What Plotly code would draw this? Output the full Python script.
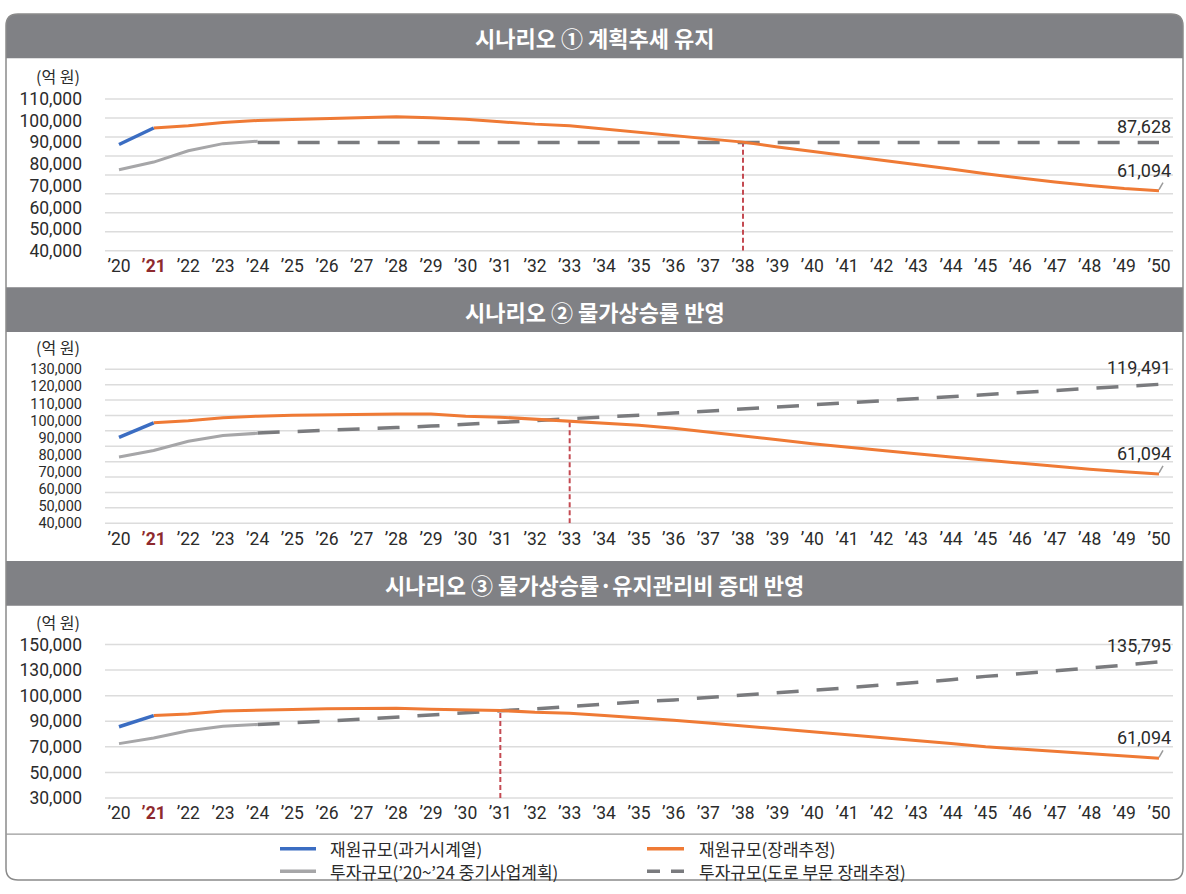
import numpy as np
import plotly.graph_objects as go

W, H = 1186, 894
FONT = "Noto Sans CJK KR"
NUMFONT = "Roboto"

# ---------------- data ----------------
YEARS = list(range(2020, 2051))
YEAR_LABELS = ["’%02d" % (y % 100) for y in YEARS]
HIGHLIGHT_YEAR = 2021

PANEL_TITLES = ["시나리오 ① 계획추세 유지",
                "시나리오 ② 물가상승률 반영",
                "시나리오 ③ 물가상승률·유지관리비 증대 반영"]
UNIT_LABEL = "(억 원)"

PAST_YEARS = [2020, 2021]
FUTURE_YEARS = list(range(2021, 2051))
PLAN_YEARS = [2020, 2021, 2022, 2023, 2024]
EST_YEARS = list(range(2024, 2051))

# Scenario 1
S1_TICKS = [40000, 50000, 60000, 70000, 80000, 90000, 100000, 110000]
S1_PAST = [89000, 96600]
S1_FUTURE = [96600, 97700, 99200, 100100, 100500, 101000, 101300, 101800, 101300, 100700,
             99500, 98400, 97700, 96200, 94900, 93300, 91700, 90100, 87900, 85900,
             83800, 81800, 79700, 77700, 75500, 73500, 71700, 70100, 68700, 67700]
S1_PLAN = [77400, 80900, 86100, 89400, 90500]
S1_EST = [89900, 89900, 89900, 89900, 89900, 89900, 89900, 89900, 89900, 89900,
          89900, 89900, 89900, 89900, 89900, 89900, 89900, 89900, 89900, 89900,
          89900, 89900, 89900, 89900, 89900, 89900, 89900]

# Scenario 2
S2_TICKS = [40000, 50000, 60000, 70000, 80000, 90000, 100000, 110000, 120000, 130000]
S2_PAST = [90200, 98700]
S2_FUTURE = [98700, 99900, 101600, 102600, 103100, 103500, 103500, 103900, 103900, 102600,
             102000, 100800, 99900, 98300, 97300, 95500, 93400, 91300, 88800, 86500,
             84400, 82500, 80600, 78700, 76800, 74900, 73200, 71500, 70100, 68800]
S2_PLAN = [78700, 82500, 87900, 91300, 92600]
S2_EST = [92800, 93500, 94200, 95000, 95900, 96800, 97800, 98900, 100000, 101100,
          102100, 103200, 104400, 105600, 106800, 108000, 109300, 110600, 111900, 113100,
          114400, 115600, 116800, 118000, 119100, 120200, 121200]

# Scenario 3 (axis labels are evenly spaced but not linear)
S3_TICKS = [30000, 50000, 70000, 90000, 100000, 130000, 150000]
S3_PAST = [85700, 92200]
S3_FUTURE = [92200, 92800, 94000, 94400, 94600, 94900, 94900, 95100, 94700, 94400,
             94200, 93500, 93100, 92200, 91400, 90400, 88700, 86400, 84500, 82200,
             79900, 77600, 75000, 72500, 70000, 68200, 66200, 64300, 62500, 61000]
S3_PLAN = [72500, 76900, 82600, 86000, 87500]
S3_EST = [87500, 88500, 90000, 90800, 91700, 92400, 93200, 94100, 94800, 95800,
          96700, 97600, 98300, 99200, 100600, 103500, 106400, 109200, 112400, 115200,
          118600, 122600, 125500, 128900, 131500, 133900, 136400]

CROSS_YEARS = [2038, 2033, 2031]
END_EST_LABELS = ["87,628", "119,491", "135,795"]
END_FUT_LABELS = ["61,094", "61,094", "61,094"]

LEGEND_NAMES = ["재원규모(과거시계열)", "투자규모(’20~’24 중기사업계획)",
                "재원규모(장래추정)", "투자규모(도로 부문 장래추정)"]

# ---------------- style ----------------
C_BLUE = "#3b6dc2"
C_ORANGE = "#ef7a35"
C_GRAY = "#a6a6a8"
C_DASH = "#7a7b7e"
C_RED = "#c44a52"
C_HEAD = "#808185"
C_GRID = "#dcdcdc"
C_TEXT = "#2b2b2b"
DASH = "22px,18px"


def px_x(p):
    return p / W


def px_y(p):
    return 1 - p / H


# plot-area pixel geometry per panel: (top, bottom)
PANEL_PX = [(91, 246.3), (367.5, 525.0), (649, 806)]
YTICK_SIZE = [17.5, 14.5, 17.5]
X_LEFT, X_RIGHT = 105, 1173
X0_PX, X50_PX = 119, 1159
per = (X50_PX - X0_PX) / 30.0
XRANGE = [2020 - (X0_PX - X_LEFT) / per, 2050 + (X_RIGHT - X50_PX) / per]
N_GRID = [9, 11, 7]

panels = [
    dict(ticks=S1_TICKS, past=S1_PAST, fut=S1_FUTURE, plan=S1_PLAN, est=S1_EST, linear=True),
    dict(ticks=S2_TICKS, past=S2_PAST, fut=S2_FUTURE, plan=S2_PLAN, est=S2_EST, linear=True),
    dict(ticks=S3_TICKS, past=S3_PAST, fut=S3_FUTURE, plan=S3_PLAN, est=S3_EST, linear=False),
]

fig = go.Figure()
shapes = []
annotations = []

xticktext = []
for y, lab in zip(YEARS, YEAR_LABELS):
    if y == HIGHLIGHT_YEAR:
        xticktext.append("<b><span style='color:#8e2a2e'>%s</span></b>" % lab)
    else:
        xticktext.append(lab)

for k, p in enumerate(panels):
    idx = "" if k == 0 else str(k + 1)
    xa, ya = "x" + idx, "y" + idx
    ticks = p["ticks"]
    if p["linear"]:
        def tf(v):
            return list(v)
        yrange = [ticks[0], ticks[-1]]
        tickvals = ticks
    else:
        def tf(v, t=ticks):
            return list(np.interp(v, t, np.arange(len(t))))
        yrange = [0, len(ticks) - 1]
        tickvals = list(range(len(ticks)))
    ticktext = ["{:,}".format(t) for t in ticks]

    top, bot = PANEL_PX[k]
    fig.update_layout(**{
        ("xaxis" + idx): dict(domain=[px_x(X_LEFT), px_x(X_RIGHT)], range=XRANGE, anchor=ya,
                              tickvals=YEARS, ticktext=xticktext, showgrid=False,
                              zeroline=False, showline=False, ticks="",
                              tickfont=dict(family=NUMFONT, size=17.5, color=C_TEXT),
                              ticklabelstandoff=3, fixedrange=True),
        ("yaxis" + idx): dict(domain=[px_y(bot), px_y(top)], range=yrange, anchor=xa,
                              tickvals=tickvals, ticktext=ticktext, showgrid=False,
                              zeroline=False, showline=False, ticks="",
                              tickfont=dict(family=NUMFONT, size=YTICK_SIZE[k], color=C_TEXT),
                              ticklabelstandoff=22, fixedrange=True),
    })

    # gridlines
    n = N_GRID[k]
    for j in range(n):
        shapes.append(dict(type="line", xref=xa + " domain", yref=ya + " domain",
                           x0=0, x1=1, y0=j / (n - 1), y1=j / (n - 1),
                           line=dict(color=C_GRID, width=1.5), layer="below"))

    # red crossover marker
    cy = CROSS_YEARS[k]
    cv = float(np.interp(cy, FUTURE_YEARS, p["fut"]))
    shapes.append(dict(type="line", xref=xa, yref=ya, x0=cy, x1=cy,
                       y0=yrange[0], y1=tf([cv])[0],
                       line=dict(color=C_RED, width=2, dash="5px,3px"), layer="below"))

    fig.add_trace(go.Scatter(x=PLAN_YEARS, y=tf(p["plan"]), xaxis=xa, yaxis=ya, mode="lines",
                             line=dict(color=C_GRAY, width=3), showlegend=False, hoverinfo="skip"))
    fig.add_trace(go.Scatter(x=EST_YEARS, y=tf(p["est"]), xaxis=xa, yaxis=ya, mode="lines",
                             line=dict(color=C_DASH, width=3.5, dash=DASH), showlegend=False,
                             hoverinfo="skip"))
    fig.add_trace(go.Scatter(x=FUTURE_YEARS, y=tf(p["fut"]), xaxis=xa, yaxis=ya, mode="lines",
                             line=dict(color=C_ORANGE, width=3), showlegend=False,
                             hoverinfo="skip"))
    fig.add_trace(go.Scatter(x=PAST_YEARS, y=tf(p["past"]), xaxis=xa, yaxis=ya, mode="lines",
                             line=dict(color=C_BLUE, width=3.5), showlegend=False,
                             hoverinfo="skip"))

    # small leader tick at orange end
    fv = tf([p["fut"][-1]])[0]
    shapes.append(dict(type="line", xref=xa, yref=ya, xsizemode="pixel", ysizemode="pixel",
                       xanchor=2050, yanchor=fv, x0=0, x1=4, y0=1, y1=8,
                       line=dict(color="#9a9a9a", width=1.5)))

    # end labels
    ev = tf([p["est"][-1]])[0]
    annotations.append(dict(x=2050, y=ev, xref=xa, yref=ya, text=END_EST_LABELS[k],
                            showarrow=False, xanchor="right", yanchor="bottom",
                            xshift=14, yshift=4,
                            font=dict(family=NUMFONT, size=18, color=C_TEXT)))
    annotations.append(dict(x=2050, y=fv, xref=xa, yref=ya, text=END_FUT_LABELS[k],
                            showarrow=False, xanchor="right", yanchor="bottom",
                            xshift=14, yshift=8,
                            font=dict(family=NUMFONT, size=18, color=C_TEXT)))

    # unit label
    annotations.append(dict(x=px_x(82), y=px_y(top - 23), xref="paper", yref="paper",
                            text=UNIT_LABEL, showarrow=False, xanchor="right",
                            yanchor="middle", font=dict(family=FONT, size=16, color=C_TEXT)))

# ---------------- frame, headers ----------------
L, R, T, B, RAD = 6, 1183, 4, 890, 12
HEADERS = [(4, 49.3), (283.5, 329.3), (563.5, 609.3)]


def P(x, y):
    return "%.5f,%.5f" % (px_x(x), px_y(y))


# header 1 with rounded top corners
t, b = HEADERS[0]
path = ("M " + P(L, b) + " L " + P(L, t + RAD) + " Q " + P(L, t) + " " + P(L + RAD, t) +
        " L " + P(R - RAD, t) + " Q " + P(R, t) + " " + P(R, t + RAD) + " L " + P(R, b) + " Z")
shapes.append(dict(type="path", xref="paper", yref="paper", path=path,
                   fillcolor=C_HEAD, line=dict(width=0), layer="below"))
for t, b in HEADERS[1:]:
    shapes.append(dict(type="rect", xref="paper", yref="paper", x0=px_x(L), x1=px_x(R),
                       y0=px_y(b), y1=px_y(t), fillcolor=C_HEAD, line=dict(width=0),
                       layer="below"))
for (t, b), title in zip(HEADERS, PANEL_TITLES):
    annotations.append(dict(x=px_x((L + R) / 2), y=px_y((t + b) / 2 + 1), xref="paper",
                            yref="paper", text=title, showarrow=False, xanchor="center",
                            yanchor="middle",
                            font=dict(family=FONT, size=22, color="white", weight="bold")))

# outer rounded border
border = ("M " + P(L + RAD, T) + " L " + P(R - RAD, T) + " Q " + P(R, T) + " " + P(R, T + RAD) +
          " L " + P(R, B - RAD) + " Q " + P(R, B) + " " + P(R - RAD, B) +
          " L " + P(L + RAD, B) + " Q " + P(L, B) + " " + P(L, B - RAD) +
          " L " + P(L, T + RAD) + " Q " + P(L, T) + " " + P(L + RAD, T) + " Z")
shapes.append(dict(type="path", xref="paper", yref="paper", path=border,
                   line=dict(color="#8a8a8a", width=1.5)))
# legend separator
shapes.append(dict(type="line", xref="paper", yref="paper", x0=px_x(L), x1=px_x(R),
                   y0=px_y(843), y1=px_y(843), line=dict(color="#9a9a9a", width=1.2)))

# ---------------- legend ----------------
LEG = [
    (280, 316, 328, 858, C_BLUE, None, 3.5),
    (280, 316, 328, 881, C_GRAY, None, 3.5),
    (647, 684, 697, 858, C_ORANGE, None, 3.5),
    (647, 684, 697, 881, C_DASH, "13px,11px", 3.5),
]
for (x0, x1, xt, yy, col, dash, wd), name in zip(LEG, LEGEND_NAMES):
    ln = dict(color=col, width=wd)
    if dash:
        ln["dash"] = dash
    shapes.append(dict(type="line", xref="paper", yref="paper", x0=px_x(x0), x1=px_x(x1),
                       y0=px_y(yy), y1=px_y(yy), line=ln))
    annotations.append(dict(x=px_x(xt), y=px_y(yy), xref="paper", yref="paper", text=name,
                            showarrow=False, xanchor="left", yanchor="middle",
                            font=dict(family=FONT, size=17, color=C_TEXT)))

fig.update_layout(width=W, height=H, margin=dict(l=0, r=0, t=0, b=0),
                  paper_bgcolor="white", plot_bgcolor="rgba(0,0,0,0)",
                  shapes=shapes, annotations=annotations, showlegend=False,
                  font=dict(family=FONT, color=C_TEXT))

fig.write_html("out.html")
